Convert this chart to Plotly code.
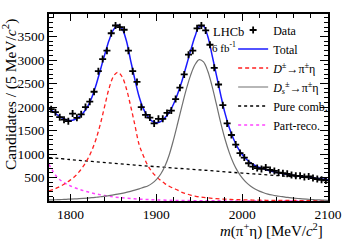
import numpy as np
import plotly.graph_objects as go

# ---------------- data ----------------
data_mass = [1777.5 + 5 * i for i in range(65)]
data_counts = [1955, 1890, 1785, 1730, 1700, 1860, 1770, 1845, 2000, 2115,
               2325, 2764, 3020, 3200, 3570, 3735, 3700, 3645, 3200, 2764,
               2535, 2000, 1835, 1775, 1650, 1750, 1750, 1875, 1925, 2170,
               2413, 2695, 3115, 3200, 3675, 3735, 3630, 3326, 2834, 2480,
               2040, 1650, 1405, 1200, 1020, 925, 803, 732, 700, 683,
               715, 662, 641, 605, 593, 578, 551, 536, 536, 509,
               521, 488, 467, 452, 437]

curve_mass = [1775 + 5 * i for i in range(66)]
total_fit = [1975, 1905, 1830, 1770, 1730, 1715, 1735, 1790, 1880, 2010,
             2210, 2480, 2800, 3120, 3420, 3640, 3740, 3670, 3420, 3000,
             2590, 2220, 1960, 1800, 1700, 1665, 1690, 1770, 1880, 2060,
             2290, 2560, 2880, 3200, 3500, 3710, 3720, 3500, 3100, 2680,
             2260, 1870, 1560, 1320, 1130, 990, 890, 810, 755, 712,
             685, 655, 630, 610, 590, 575, 560, 545, 532, 520,
             508, 496, 484, 472, 461, 450]
dplus_fit = [215, 245, 285, 330, 385, 450, 520, 620, 740, 890,
             1080, 1330, 1650, 2030, 2400, 2650, 2740, 2650, 2400, 2030,
             1620, 1200, 960, 760, 620, 520, 440, 370, 315, 270,
             230, 185, 155, 125, 105, 88, 76, 66, 57, 50,
             44, 39, 35, 31, 28, 25, 23, 21, 19, 17.5,
             16, 15, 14, 13, 12, 11.5, 11, 10.5, 10, 9.5,
             9, 8.5, 8, 7.5, 7, 6.5]
ds_fit = [22, 25, 28, 32, 36, 40, 44, 49, 55, 62,
          70, 80, 90, 102, 115, 130, 146, 163, 182, 205,
          230, 258, 290, 320, 375, 455, 570, 740, 980, 1300,
          1660, 2030, 2380, 2680, 2900, 3010, 2960, 2760, 2440, 2060,
          1670, 1320, 1030, 800, 625, 490, 390, 315, 255, 210,
          175, 148, 127, 110, 96, 82, 72, 62, 53, 45,
          38, 32, 27, 22, 18, 15]

comb_mass = [1775, 1800, 1825, 1850, 1875, 1900, 1925, 1950, 1975, 2000,
             2025, 2050, 2075, 2100]
comb_fit = [925, 882, 842, 803, 765, 730, 696, 663, 628, 594,
            562, 530, 500, 470]

reco_mass = [1775, 1780, 1785, 1790, 1795, 1800, 1810, 1820, 1830, 1840,
             1850, 1860, 1870, 1880, 1890, 1900, 1920, 1940, 1960, 1980,
             2000, 2050, 2100]
reco_fit = [780, 620, 495, 420, 365, 320, 250, 195, 150, 115,
            88, 67, 52, 40, 31, 24, 14, 8, 5, 3,
            2, 1, 1]

x_ticks = [1800, 1900, 2000, 2100]
y_ticks = [500, 1000, 1500, 2000, 2500, 3000, 3500]

SERIF = "Liberation Serif, Times New Roman, serif"

fig = go.Figure()

fig.add_trace(go.Scatter(x=comb_mass, y=comb_fit, mode="lines", name="Pure comb.",
                         line=dict(color="black", width=1.3, dash="dot", shape="spline"),
                         legendrank=5))
fig.add_trace(go.Scatter(x=reco_mass, y=reco_fit, mode="lines", name="Part-reco.",
                         line=dict(color="#ff44ff", width=1.5, dash="dot", shape="spline"),
                         legendrank=6))
fig.add_trace(go.Scatter(x=curve_mass, y=dplus_fit, mode="lines",
                         name="<i>D</i><sup>±</sup>→π<sup>±</sup>η",
                         line=dict(color="#ff2020", width=1.3, dash="4px,3px", shape="spline"),
                         legendrank=3))
fig.add_trace(go.Scatter(x=curve_mass, y=ds_fit, mode="lines",
                         name="<i>D</i><sub><i>s</i></sub><sup>±</sup>→π<sup>±</sup>η",
                         line=dict(color="#707070", width=1.2, shape="spline"),
                         legendrank=4))
fig.add_trace(go.Scatter(x=curve_mass, y=total_fit, mode="lines", name="Total",
                         line=dict(color="#1a1aff", width=1.5, shape="spline"),
                         legendrank=2))
fig.add_trace(go.Scatter(x=data_mass, y=data_counts, mode="markers", name="Data",
                         marker=dict(symbol="cross-thin", size=5, color="black",
                                     line=dict(color="black", width=1.8)),
                         legendrank=1))

axis_common = dict(showline=True, linecolor="black", linewidth=1.5, mirror="ticks",
                   ticks="inside", tickcolor="black", showgrid=False, zeroline=False,
                   tickfont=dict(family=SERIF, size=13.5, color="black"))

fig.update_xaxes(range=[1775, 2100], tickmode="array", tickvals=x_ticks,
                 ticklen=7, tickwidth=1,
                 minor=dict(dtick=20, tick0=1780, ticks="inside", ticklen=4,
                            tickcolor="black", showgrid=False),
                 **axis_common)
fig.update_yaxes(range=[0, 3980], tickmode="array", tickvals=y_ticks,
                 ticklen=8, tickwidth=1,
                 minor=dict(dtick=100, tick0=0, ticks="inside", ticklen=4,
                            tickcolor="black", showgrid=False),
                 **axis_common)

fig.update_layout(
    width=354, height=240, autosize=False,
    margin=dict(l=49, r=17, t=12, b=39),
    paper_bgcolor="white", plot_bgcolor="white",
    font=dict(family=SERIF, color="black"),
    showlegend=True,
    legend=dict(x=0.66, y=0.992, xanchor="left", yanchor="top",
                font=dict(family=SERIF, size=12, color="black"),
                bgcolor="rgba(0,0,0,0)", tracegroupgap=0, itemwidth=30,
                maxheight=220),
    annotations=[
        dict(text="Candidates / (5 MeV/<i>c</i><sup>2</sup>)", textangle=-90,
             xref="paper", yref="paper", x=-0.141, y=0.57,
             xanchor="center", yanchor="middle", showarrow=False,
             font=dict(family=SERIF, size=15.5, color="black")),
        dict(text="<i>m</i>(π<sup>+</sup>η) [MeV/<i>c</i><sup>2</sup>]",
             xref="paper", yref="paper", x=0.99, y=-0.157,
             xanchor="right", yanchor="middle", showarrow=False,
             font=dict(family=SERIF, size=15, color="black")),
        dict(text="LHCb", xref="paper", yref="paper", x=0.58, y=0.905,
             xanchor="left", yanchor="middle", showarrow=False,
             font=dict(family=SERIF, size=12.5, color="black")),
        dict(text="6 fb<sup>-1</sup>", xref="paper", yref="paper", x=0.576, y=0.826,
             xanchor="left", yanchor="middle", showarrow=False,
             font=dict(family=SERIF, size=11, color="black")),
    ],
)

fig.write_html("out.html", config={"displayModeBar": False},
               post_script="document.body.style.margin='0';")
